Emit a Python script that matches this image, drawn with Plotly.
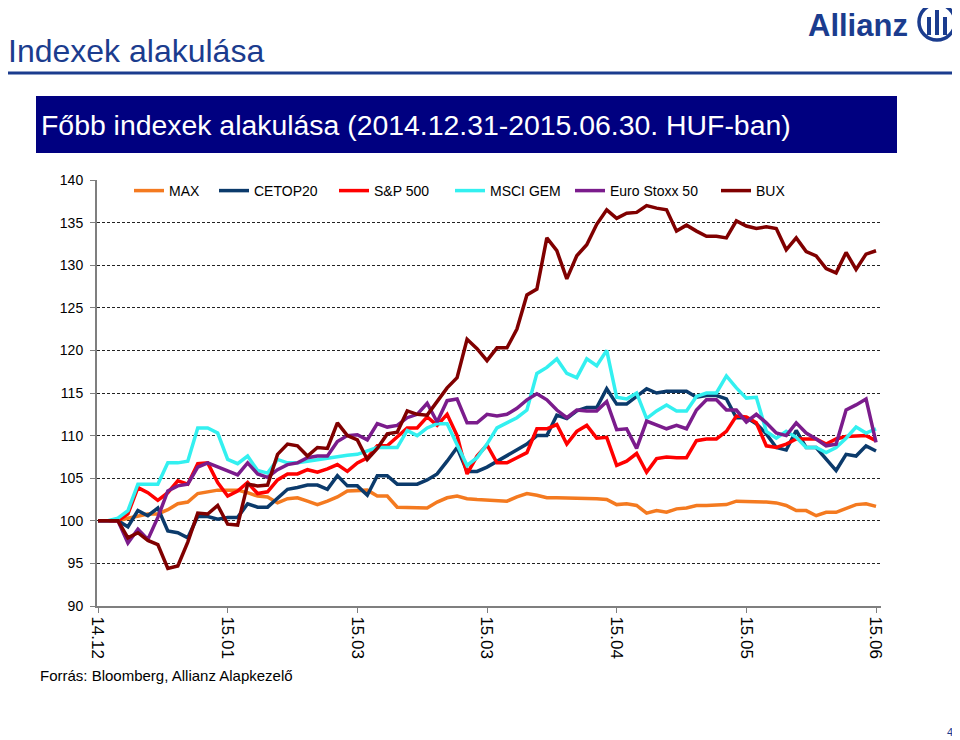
import plotly.graph_objects as go

# ── Data (index values, 2014.12.31 = 100) ───────────────────────────────────

x_idx = list(range(79))
tick_vals = [0, 13, 26, 39, 52, 65, 78]
tick_text = ["14.12", "15.01", "15.03", "15.03", "15.04", "15.05", "15.06"]

series_names = ["MAX", "CETOP20", "S&P 500", "MSCI GEM", "Euro Stoxx 50", "BUX"]

max_idx = [100, 100, 100, 100.3, 100.6, 100.8, 100.8, 101.3, 102.0, 102.2,
           103.2, 103.4, 103.6, 103.6, 103.6, 103.3, 102.9, 102.8, 102.1, 102.6,
           102.7, 102.3, 101.9, 102.3, 102.8, 103.5, 103.6, 103.6, 102.9, 102.9,
           101.6, 101.6, 101.5, 101.5, 102.2, 102.7, 102.9, 102.6, 102.5, 102.4,
           102.3, 102.3, 102.8, 103.2, 103.0, 102.7, 102.7, 102.7, 102.7, 102.6,
           102.6, 102.5, 101.9, 102.0, 101.8, 100.9, 101.2, 101.0, 101.4, 101.5,
           101.8, 101.8, 101.9, 101.9, 102.3, 102.3, 102.3, 102.2, 102.1, 101.8,
           101.2, 101.2, 100.6, 101.0, 101.0, 101.5, 101.9, 102.0, 101.7]

cetop20 = [100, 100, 100, 99.3, 101.2, 100.6, 101.5, 98.8, 98.6, 98.0,
           100.5, 100.5, 100.2, 100.4, 100.4, 102.0, 101.6, 101.6, 102.7, 103.7,
           103.9, 104.2, 104.2, 103.7, 105.3, 104.1, 104.1, 103.0, 105.3, 105.3,
           104.3, 104.3, 104.3, 104.8, 105.5, 107.0, 108.6, 105.8, 105.8, 106.3,
           107.0, 107.6, 108.3, 109.0, 110.0, 110.0, 112.4, 112.0, 112.9, 113.3,
           113.3, 115.5, 113.7, 113.7, 114.6, 115.5, 115.0, 115.2, 115.2, 115.2,
           114.5, 114.7, 114.7, 114.3, 112.1, 112.1, 111.4, 110.2, 108.6, 108.3,
           110.6, 108.6, 108.6, 107.2, 105.9, 107.8, 107.6, 108.8, 108.2]

sp500 = [100, 100, 100, 100.8, 103.9, 103.3, 102.4, 103.3, 104.7, 104.3,
         106.7, 106.8, 104.5, 102.9, 103.5, 104.5, 103.2, 103.4, 104.8, 105.5,
         105.5, 106.0, 105.7, 106.1, 106.6, 105.8, 106.8, 107.4, 108.8, 108.8,
         109.8, 110.9, 110.9, 112.2, 111.2, 112.5, 110.0, 105.5, 107.6, 108.9,
         106.8, 106.8, 107.4, 108.0, 110.8, 110.8, 111.3, 109.0, 110.5, 111.2,
         109.7, 109.8, 106.5, 107.0, 107.9, 105.7, 107.3, 107.5, 107.4, 107.4,
         109.4, 109.6, 109.6, 110.5, 112.3, 112.2, 111.5, 108.8, 108.6, 109.0,
         109.6, 109.6, 109.6, 109.0, 109.6, 109.9, 110.0, 110.0, 109.4]

msci_gem = [100, 100, 100.3, 101.2, 104.3, 104.3, 104.3, 106.8, 106.8, 107.0,
            110.9, 110.9, 110.3, 107.2, 106.7, 107.6, 105.9, 105.6, 107.2, 106.8,
            106.8, 107.0, 107.2, 107.3, 107.6, 107.7, 107.8, 108.2, 108.6, 108.6,
            108.6, 110.6, 110.0, 110.9, 111.4, 111.4, 109.0, 106.5, 107.4, 109.0,
            110.9, 111.5, 112.1, 113.0, 117.3, 118.0, 119.0, 117.3, 116.8, 119.0,
            118.2, 120.0, 114.5, 114.3, 115.0, 112.0, 112.9, 113.6, 112.9, 112.9,
            114.6, 115.0, 115.0, 117.0, 115.6, 114.4, 114.5, 110.5, 109.7, 110.5,
            109.8, 108.6, 108.6, 108.0, 108.6, 109.7, 111.0, 110.3, 110.8]

euro_stoxx = [100, 100, 100, 97.4, 99.0, 97.8, 100.4, 103.5, 104.1, 104.3,
              106.3, 106.8, 106.3, 105.8, 105.4, 106.8, 105.5, 105.1, 106.0, 106.6,
              106.8, 107.4, 107.6, 107.6, 109.3, 110.0, 110.1, 109.5, 111.4, 111.0,
              111.2, 112.1, 112.5, 113.8, 111.6, 114.1, 114.3, 111.5, 111.5, 112.5,
              112.3, 112.5, 113.2, 114.2, 114.9, 114.2, 113.0, 112.1, 113.0, 112.9,
              112.9, 114.0, 110.7, 110.8, 108.5, 111.7, 111.2, 110.8, 111.2, 110.8,
              113.0, 114.2, 114.2, 113.0, 113.0, 111.6, 112.5, 111.5, 110.3, 110.0,
              111.5, 110.3, 109.6, 108.8, 109.0, 113.0, 113.6, 114.3, 109.2]

bux = [100, 100, 100, 98.0, 98.6, 97.7, 97.2, 94.4, 94.7, 97.5,
       100.9, 100.8, 101.8, 99.6, 99.5, 104.3, 104.1, 104.2, 107.8, 109.0,
       108.8, 107.6, 108.6, 108.5, 111.5, 110.0, 109.5, 107.2, 108.5, 110.2,
       110.4, 112.9, 112.5, 112.4, 114.0, 115.6, 116.8, 121.3, 120.2, 118.8,
       120.3, 120.3, 122.5, 126.5, 127.2, 133.2, 131.7, 128.4, 131.1, 132.4,
       134.8, 136.5, 135.5, 136.1, 136.2, 137.0, 136.7, 136.5, 134.0, 134.7,
       134.0, 133.4, 133.4, 133.2, 135.2, 134.6, 134.3, 134.5, 134.3, 131.8,
       133.2, 131.6, 131.1, 129.6, 129.1, 131.5, 129.5, 131.3, 131.7]

series_values = [max_idx, cetop20, sp500, msci_gem, euro_stoxx, bux]
series_colors = ["#F47A20", "#0B3A6B", "#FF0000", "#33F0F0", "#7B1C8C", "#800000"]

# ── Geometry helpers (page pixel -> paper); the page body adds an 8px margin ──

OFF = 8
W, H = 960 - OFF, 740 - OFF
L, T, R, B = 89, 172, 79, 134
PW, PH = W - L - R, H - T - B
NAVY = "#1B3C8E"
FONT = "Liberation Sans, Arial, sans-serif"


def px(x):
    return (x - OFF - L) / PW


def py(y):
    return (T + PH - (y - OFF)) / PH


fig = go.Figure()
legend_left = [129, 214, 334, 450, 570, 716]
legend_layout = {}
for k, (name, vals, col) in enumerate(zip(series_names, series_values, series_colors)):
    key = "legend" if k == 0 else f"legend{k + 1}"
    fig.add_trace(go.Scatter(x=x_idx, y=vals, name=name, mode="lines",
                             line=dict(color=col, width=3.5), legend=key))
    legend_layout[key] = dict(orientation="h", x=px(legend_left[k]), y=py(191),
                              xanchor="left", yanchor="middle", bgcolor="rgba(0,0,0,0)",
                              font=dict(size=14, family=FONT), itemwidth=30)

shapes = [
    # header rule
    dict(type="line", xref="paper", yref="paper", x0=px(0), x1=px(955),
         y0=py(73), y1=py(73), line=dict(color=NAVY, width=3)),
    # banner
    dict(type="rect", xref="paper", yref="paper", x0=px(36), x1=px(897),
         y0=py(153), y1=py(96), fillcolor="#000080", line=dict(width=0)),
    # logo ring
    dict(type="circle", xref="paper", yref="paper", x0=px(919), x1=px(955),
         y0=py(40), y1=py(4), line=dict(color=NAVY, width=3.5)),
]
for x0, x1, y0, y1 in [(927, 931, 35, 17), (935, 939, 35, 10), (943, 947, 35, 17)]:
    shapes.append(dict(type="rect", xref="paper", yref="paper", x0=px(x0), x1=px(x1),
                       y0=py(y0), y1=py(y1), fillcolor=NAVY, line=dict(width=0)))

annotations = [
    dict(text="Indexek alakulása", x=px(6), y=py(51), xanchor="left", yanchor="middle",
         font=dict(size=32, color=NAVY, family=FONT)),
    dict(text="<b>Allianz</b>", x=px(910), y=py(26), xanchor="right", yanchor="middle",
         font=dict(size=31, color=NAVY, family=FONT)),
    dict(text="Főbb indexek alakulása (2014.12.31-2015.06.30. HUF-ban)", x=px(39), y=py(125),
         xanchor="left", yanchor="middle", font=dict(size=28.4, color="white", family=FONT)),
    dict(text="Forrás: Bloomberg, Allianz Alapkezelő", x=px(38), y=py(675),
         xanchor="left", yanchor="middle", font=dict(size=15, color="black", family=FONT)),
    dict(text="4", x=px(950), y=py(732), xanchor="center", yanchor="middle",
         font=dict(size=11, color=NAVY, family=FONT)),
]
for a in annotations:
    a.update(xref="paper", yref="paper", showarrow=False)

fig.update_layout(
    width=W, height=H,
    margin=dict(l=L, r=R, t=T, b=B),
    paper_bgcolor="white", plot_bgcolor="white",
    font=dict(family=FONT, color="black"),
    shapes=shapes, annotations=annotations,
    showlegend=True,
    **legend_layout,
)
fig.update_xaxes(range=[-0.1, 78.5], tickvals=tick_vals, ticktext=tick_text, tickangle=90,
                 showgrid=False, zeroline=False, showline=True, linecolor="#7F7F7F", linewidth=2,
                 ticks="outside", ticklen=5, tickcolor="#7F7F7F", tickfont=dict(size=17))
fig.update_yaxes(range=[90, 140], dtick=5, tick0=90, showgrid=True, gridcolor="#222222",
                 gridwidth=1, griddash="3px,2px", zeroline=False, showline=True,
                 linecolor="#7F7F7F", linewidth=2, ticks="outside", ticklen=5,
                 tickcolor="#7F7F7F", tickfont=dict(size=14), ticklabelstandoff=4)

fig.write_html("out.html")
